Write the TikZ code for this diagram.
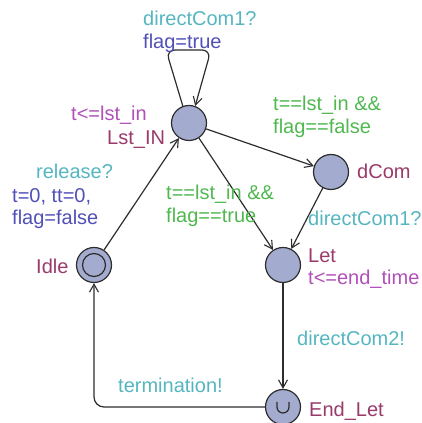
\documentclass[tikz,border=0pt]{standalone}
\usepackage{fontspec}
\setmainfont{Liberation Sans}
\usetikzlibrary{arrows.meta,calc}

\definecolor{locfill}{RGB}{163,171,206}
\definecolor{edgecol}{RGB}{45,45,45}
\definecolor{synccol}{RGB}{85,182,192}
\definecolor{assigncol}{RGB}{80,80,184}
\definecolor{guardcol}{RGB}{80,184,80}
\definecolor{invcol}{RGB}{176,80,184}
\definecolor{namecol}{RGB}{154,58,106}

\tikzset{
  loc/.style={circle, draw=edgecol, fill=locfill, line width=1.2pt,
              minimum size=35pt, inner sep=0pt},
  edge/.style={draw=edgecol, line width=1.2pt,
               -{Straight Barb[length=8pt,width=9pt,line width=1.1pt]}},
  lbl/.style={anchor=base west, inner sep=0pt, font=\fontsize{20}{23}\selectfont},
  sync/.style={lbl, text=synccol},
  assign/.style={lbl, text=assigncol},
  guard/.style={lbl, text=guardcol},
  inv/.style={lbl, text=invcol},
  lname/.style={lbl, text=namecol},
}

\begin{document}
\begin{tikzpicture}[x=1pt,y=1pt]
\useasboundingbox (0,0) rectangle (422,423);

% locations
\node[loc] (lst)    at (189,300) {};
\node[loc] (dcom)   at (331,251) {};
\node[loc] (let)    at (283,158) {};
\node[loc] (idle)   at (94,158)  {};
\node[loc] (endlet) at (283,16)  {};

% initial marker and urgent marker
\draw[edgecol, line width=1.2pt] (idle) circle (11.5pt);
\draw[edgecol, line width=1.2pt]
  ($(endlet)+(-6,5)$) -- ($(endlet)+(-6,0)$) arc[start angle=180,end angle=360,radius=6pt]
  -- ($(endlet)+(6,5)$);

% transitions
\draw[edge, rounded corners=9pt] (lst.110) -- (166,373) -- (211,373) -- (lst.70);
\draw[edge] (lst) -- (dcom);
\draw[edge] (lst) -- (let);
\draw[edge] (dcom) -- (let);
\draw[edge] (let) -- (endlet);
\draw[edge, rounded corners=10pt] (endlet.west) -- (idle |- endlet) -- (idle.south);
\draw[edge] (idle) -- (lst);

% labels
\node[sync]   (s1) at (143,397) {directCom1?};
\node[assign] (a1) at (143,374) {flag=true};
\node[inv]    (i1) at (71,302)  {t<=lst\_in};
\node[lname]  (n1) at (107,278) {Lst\_IN};
\node[guard]  (g1) at (273,312) {t==lst\_in \&\&};
\node[guard]  (g2) at (273,289) {flag==false};
\node[lname]  (n2) at (357,244) {dCom};
\node[guard]  (g3) at (166,223) {t==lst\_in \&\&};
\node[guard]  (g4) at (166,200) {flag==true};
\node[sync]   (s2) at (308,197) {directCom1?};
\node[lname]  (n3) at (308,160) {Let};
\node[inv]    (i2) at (308,138) {t<=end\_time};
\node[sync]   (s3) at (36,244)  {release?};
\node[assign] (a2) at (12,220)  {t=0, tt=0,};
\node[assign] (a3) at (12,198)  {flag=false};
\node[lname]  (n4) at (36,149)  {Idle};
\node[sync]   (s4) at (297,77)  {directCom2!};
\node[sync]   (s5) at (118,30)  {termination!};
\node[lname]  (n5) at (309,6)   {End\_Let};
\end{tikzpicture}
\end{document}
